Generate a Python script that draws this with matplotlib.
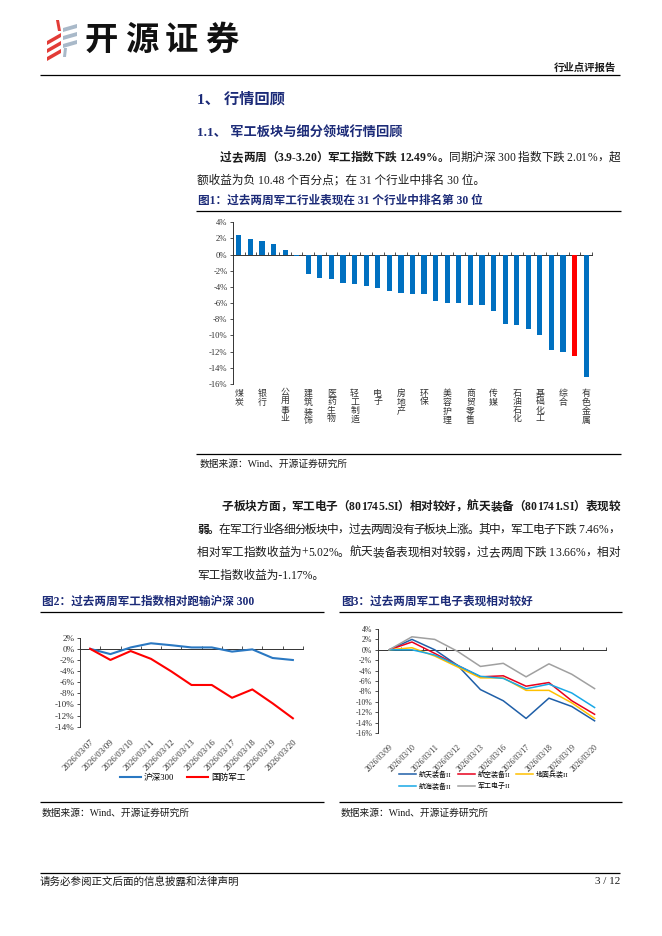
import numpy as np
import matplotlib
matplotlib.use('Agg')
import matplotlib.pyplot as plt
from matplotlib.patches import Polygon

# ---- data ----
industries = ['煤炭', '交通运输', '银行', '家用电器', '公用事业', '食品饮料', '建筑装饰', '非银金融',
              '医药生物', '建筑材料', '轻工制造', '通信', '电子', '农林牧渔', '房地产', '纺织服饰',
              '环保', '社会服务', '美容护理', '钢铁', '商贸零售', '汽车', '传媒', '机械设备',
              '石油石化', '计算机', '基础化工', '电力设备', '综合', '国防军工', '有色金属']
ind_ret = [2.4, 1.95, 1.7, 1.3, 0.6, -0.2, -2.4, -2.85, -3.05, -3.55, -3.65, -3.9, -4.1, -4.45,
           -4.75, -4.85, -4.85, -5.7, -6.0, -6.0, -6.2, -6.25, -6.95, -8.6, -8.75, -9.2, -10.0,
           -11.8, -12.0, -12.49, -15.1]

dates2 = ['2026/03/07', '2026/03/09', '2026/03/10', '2026/03/11', '2026/03/12', '2026/03/13',
          '2026/03/16', '2026/03/17', '2026/03/18', '2026/03/19', '2026/03/20']
hs300 = [0, -0.95, 0.25, 1.0, 0.65, 0.25, 0.25, -0.5, -0.1, -1.65, -2.01]
gfjg = [0, -2.0, -0.4, -1.8, -4.05, -6.5, -6.5, -8.8, -7.3, -9.8, -12.49]

dates3 = ['2026/03/09', '2026/03/10', '2026/03/11', '2026/03/12', '2026/03/13', '2026/03/16',
          '2026/03/17', '2026/03/18', '2026/03/19', '2026/03/20']
sub_names = ['航天装备II', '航空装备II', '地面兵装II', '航海装备II', '军工电子II']
htzb = [0, 2.0, 0.0, -3.0, -7.65, -9.8, -13.2, -9.3, -10.9, -13.66]
hkzb = [0, 1.5, -0.7, -3.0, -5.2, -5.0, -7.0, -6.3, -9.8, -12.4]
dmbz = [0, 0.4, -1.2, -3.3, -5.4, -5.4, -7.8, -7.8, -10.2, -13.2]
hhzb = [0, 0.0, -1.0, -3.0, -5.1, -5.5, -7.5, -6.6, -8.3, -11.1]
jgdz = [0, 2.5, 2.0, -0.3, -3.2, -2.6, -5.2, -2.7, -4.7, -7.46]

# ---- page ----
W, H = 662, 936
fig = plt.figure(figsize=(W / 100, H / 100), dpi=100)
FAM = ['Liberation Serif', 'Noto Sans CJK SC']
NAVY = '#1c2b78'
TXT = '#1a1a1a'

bg = fig.add_axes([0, 0, 1, 1])
bg.set_xlim(0, W)
bg.set_ylim(H, 0)
bg.axis('off')
rend = fig.canvas.get_renderer()


def put(x, y, s, size=8.4, bold=False, color=TXT, ha='left', fam=FAM):
    return bg.text(x, y, s, fontsize=size, fontweight='bold' if bold else 'normal',
                   color=color, ha=ha, va='center', family=fam)


def width(t):
    return t.get_window_extent(rend).width


def line(x, y, parts, right=None, size=8.4):
    # parts: list of (text, bold); optionally justify to the right edge
    chars = [(c, b) for s, b in parts for c in s]
    if right is None:
        for s, b in parts:
            t = put(x, y, s, size, b)
            x += width(t)
        return
    ts = [put(x, y, c, size, b) for c, b in chars]
    ws = [width(t) for t in ts]
    gaps = [i for i, (c, b) in enumerate(chars[:-1]) if ord(c) > 0x2e80]
    extra = (right - x - sum(ws)) / max(len(gaps), 1)
    cx = x
    for i, t in enumerate(ts):
        t.set_x(cx)
        cx += ws[i] + (extra if i in gaps else 0)


def hline(x0, x1, y, lw=0.9, color='#000000'):
    bg.plot([x0, x1], [y, y], color=color, lw=lw, solid_capstyle='butt')


# logo
red = '#e23b36'
gray = '#a9b9c9'
for dy in (0, 8, 16):
    bg.add_patch(Polygon([(47, 41 + dy), (61, 33 + dy), (61, 37 + dy), (47, 45 + dy)], color=red, lw=0))
bg.add_patch(Polygon([(56, 20), (59, 20), (61, 31), (58, 31)], color=red, lw=0))
for dy in (0, 8, 16):
    bg.add_patch(Polygon([(63, 28 + dy), (77, 24 + dy), (77, 28 + dy), (63, 32 + dy)], color=gray, lw=0))
bg.add_patch(Polygon([(64, 48), (67, 48), (66, 57), (63, 57)], color=gray, lw=0))
for i, c in enumerate('开源证券'):
    put(85 + i * 40, 40, c, size=24, bold=True, color='#111111', fam=['Noto Sans CJK SC'])

put(616, 68, '行业点评报告', size=7.5, bold=True, ha='right')
hline(40, 620, 75)

put(197, 99, '1、 行情回顾', size=11, bold=True, color=NAVY)
put(197, 133, '1.1、 军工板块与细分领域行情回顾', size=9.5, bold=True, color=NAVY)

line(220, 158, [('过去两周（3.9-3.20）军工指数下跌 12.49%。', True),
                ('同期沪深 300 指数下跌 2.01%，超', False)], right=620)
line(197, 180, [('额收益为负 10.48 个百分点；在 31 个行业中排名 30 位。', False)])

put(198, 201, '图1：过去两周军工行业表现在 31 个行业中排名第 30 位', size=8.4, bold=True, color=NAVY)
hline(196, 621, 211)

line(222, 507, [('子板块方面，军工电子（801745.SI）相对较好，航天装备（801741.SI）表现较', True)], right=620)
line(197, 530, [('弱。', True), ('在军工行业各细分板块中，过去两周没有子板块上涨。其中，军工电子下跌 7.46%，', False)],
     right=620)
line(197, 553, [('相对军工指数收益为+5.02%。航天装备表现相对较弱，过去两周下跌 13.66%，相对', False)], right=620)
line(197, 576, [('军工指数收益为-1.17%。', False)])

put(42, 602, '图2：过去两周军工指数相对跑输沪深 300', size=8.4, bold=True, color=NAVY)
hline(40, 324, 612)
put(341, 602, '图3：过去两周军工电子表现相对较好', size=8.4, bold=True, color=NAVY)
hline(339, 622, 612)

hline(196, 621, 454)
put(200, 464, '数据来源：Wind、开源证券研究所', size=7)
hline(40, 324, 802)
put(42, 813, '数据来源：Wind、开源证券研究所', size=7)
hline(339, 622, 802)
put(341, 813, '数据来源：Wind、开源证券研究所', size=7)

hline(40, 620, 873)
put(40, 882, '请务必参阅正文后面的信息披露和法律声明', size=7.6)
put(620, 882, '3 / 12', size=8, ha='right')


def px_axes(x0, y0, x1, y1):
    a = fig.add_axes([x0 / W, 1 - y1 / H, (x1 - x0) / W, (y1 - y0) / H])
    a.set_facecolor('none')
    return a


def style(ax, ylo, yhi, step, n, fs):
    ax.set_ylim(ylo, yhi)
    ax.set_xlim(-0.5, n - 0.5)
    yt = np.arange(ylo, yhi + 0.1, step)
    ax.set_yticks(yt, ['%d%%' % v for v in yt])
    for s in ('top', 'right', 'bottom'):
        ax.spines[s].set_visible(False)
    ax.spines['left'].set_linewidth(0.7)
    ax.spines['left'].set_color('#333333')
    ax.tick_params(axis='y', length=2.5, width=0.6, pad=1.5, labelsize=fs, colors='#333333')
    ax.tick_params(axis='x', length=0)
    for t in ax.get_yticklabels():
        t.set_family(FAM)
    zero = ax.secondary_xaxis((0 - ylo) / (yhi - ylo))
    zero.set_xticks(np.arange(-0.5, n, 1.0), labels=[])
    zero.tick_params(direction='out', length=2.5, width=0.6, color='#333333')
    for s in zero.spines.values():
        s.set_linewidth(0.7)
        s.set_color('#333333')


# fig 1 bar chart
ax1 = px_axes(233, 222.3, 592, 384)
n1 = len(industries)
cols = ['#ff0000' if name == '国防军工' else '#0070c0' for name in industries]
ax1.bar(np.arange(n1), ind_ret, width=0.45, color=cols, zorder=2)
style(ax1, -16, 4, 2, n1, 6.2)
ax1.set_xticks(np.arange(0, n1, 2), ['\n'.join(nm) for nm in industries[::2]])
for t in ax1.get_xticklabels():
    t.set_family(FAM)
    t.set_fontsize(6.4)
    t.set_linespacing(1.08)
    t.set_va('top')
    t.set_color('#333333')
ax1.tick_params(axis='x', pad=4)

# fig 2 lines
ax2 = px_axes(80, 637.7, 303, 726.7)
x2 = np.arange(len(dates2))
ax2.plot(x2, hs300, color='#2a78c2', lw=1.5, label='沪深300', zorder=3)
ax2.plot(x2, gfjg, color='#ff0000', lw=1.5, label='国防军工', zorder=3)
style(ax2, -14, 2, 2, len(dates2), 6.6)
ax2.set_xticks(x2, dates2, rotation=45, ha='right', va='top', rotation_mode='anchor',
               fontsize=6.5, family=FAM, color='#333333')
ax2.tick_params(axis='x', pad=8)
ax2.legend(loc='center', bbox_to_anchor=((183) / W, 1 - 778 / H), bbox_transform=fig.transFigure,
           ncol=2, frameon=False, prop={'family': FAM, 'size': 6.2}, handlelength=2.4,
           handletextpad=0.4, columnspacing=1.5)

# fig 3 lines
ax3 = px_axes(377.7, 629, 606, 733)
x3 = np.arange(len(dates3))
cols3 = ['#1f5fa8', '#e8001c', '#ffc000', '#19a8e6', '#a0a0a0']
lines3 = []
for vals, nm, c in zip([htzb, hkzb, dmbz, hhzb, jgdz], sub_names, cols3):
    lines3 += ax3.plot(x3, vals, color=c, lw=1.1, label=nm, zorder=3)
style(ax3, -16, 4, 2, len(dates3), 5.6)
ax3.set_xticks(x3, dates3, rotation=45, ha='right', va='top', rotation_mode='anchor',
               fontsize=5.6, family=FAM, color='#333333')
ax3.tick_params(axis='x', pad=7)
order = [0, 3, 1, 4, 2]
ax3.legend([lines3[i] for i in order], [sub_names[i] for i in order],
           loc='center', bbox_to_anchor=(484 / W, 1 - 780 / H), bbox_transform=fig.transFigure,
           ncol=3, frameon=False, prop={'family': FAM, 'size': 5.0}, handlelength=2.4,
           handletextpad=0.4, columnspacing=0.9, labelspacing=0.7)

fig.savefig('out.png', dpi=100)
